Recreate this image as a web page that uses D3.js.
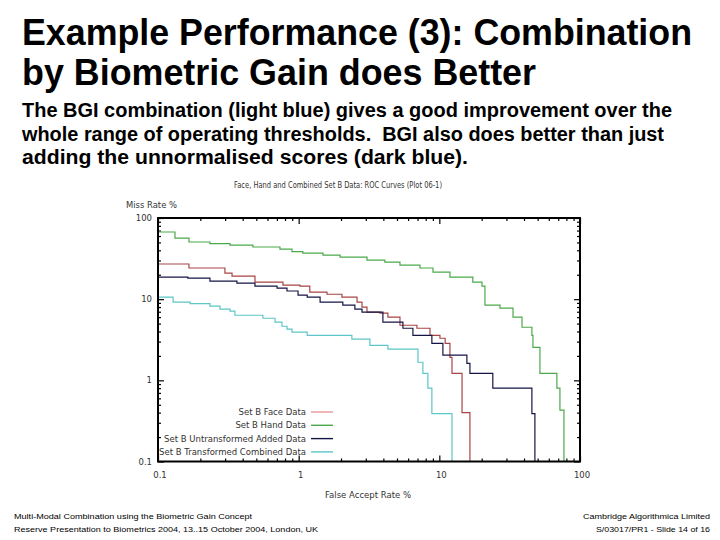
<!DOCTYPE html>
<html><head><meta charset="utf-8">
<script src="https://cdn.jsdelivr.net/npm/d3@7"></script>
<style>body{margin:0;background:#fff}svg{display:block}</style>
</head><body>
<script>
// ---- data (FAR %, Miss %) step corners ----
const faceData = [[0.1,37],[0.1,27.1],[0.166,24.2],[0.299,20.9],[0.336,19.2],[0.489,16.2],[0.773,14.9],[1.02,14.5],[1.20,12.2],[1.59,11.5],[2.03,10.6],[2.60,9.19],[2.82,7.96],[3.06,6.92],[3.78,6.72],[4.31,6.0],[5.25,4.77],[6.93,4.38],[8.58,3.59],[10.1,3.30],[11.0,2.86],[11.9,1.92],[12.3,1.22],[14.5,0.40],[16.5,0.1]];
const handData = [[0.1,67.2],[0.132,56.6],[0.166,50.6],[0.234,48.4],[0.325,46.4],[0.473,43.9],[0.736,41.4],[0.896,38.5],[1.07,37.0],[1.49,34.9],[1.97,33.0],[3.06,30.3],[4.10,28.6],[5.25,26.3],[7.28,24.2],[9.01,21.5],[11.9,18.7],[17.3,16.2],[20.1,14.5],[21.1,8.43],[27.0,7.74],[33.4,6.0],[38.7,4.51],[45.5,3.59],[46.3,2.55],[51.9,1.22],[68.5,0.80],[72.0,0.43],[76.9,0.1]];
const addedData = [[0.1,18.7],[0.163,18.2],[0.234,16.7],[0.364,15.8],[0.489,14.5],[0.702,13.7],[0.826,12.6],[0.99,11.2],[1.15,10.6],[1.42,9.19],[2.06,8.43],[2.51,7.53],[2.82,6.92],[3.97,5.20],[5.51,4.38],[6.49,3.59],[8.85,2.86],[10.6,2.04],[15.7,1.62],[16.5,1.22],[24.0,0.80],[45.5,0.39],[47.8,0.1]];
const combinedData = [[0.1,10.6],[0.128,9.19],[0.169,8.80],[0.234,8.20],[0.276,7.53],[0.325,7.11],[0.352,6.34],[0.557,5.82],[0.679,5.20],[0.761,4.64],[0.826,4.27],[0.896,3.92],[1.15,3.59],[2.39,3.21],[3.21,2.70],[4.31,2.42],[7.05,1.67],[7.64,1.22],[8.29,0.80],[8.85,0.39],[12.3,0.1]];
const seriesNames = ["Set B Face Data","Set B Hand Data","Set B Untransformed Added Data","Set B Transformed Combined Data"];
const seriesColors = ["#e89a9a","#4aa84a","#141446","#5cc6c8"];
const seriesStroke = ["#a84444","#4aa84a","#141446","#5cc6c8"];
const xTickLabels = ["0.1","1","10","100"];
const yTickLabels = ["0.1","1","10","100"];
const decades = [0.1,1,10,100];

const svg = d3.select("body").append("svg").attr("width",720).attr("height",540);
svg.append("rect").attr("width",720).attr("height",540).attr("fill","#fff");

// ---- slide text ----
const T = svg.append("g").attr("font-family","'Liberation Sans', Arial, sans-serif").attr("fill","#000");
T.append("text").attr("x",22).attr("y",45).attr("font-size",36).attr("font-weight","bold")
 .attr("textLength",670).attr("lengthAdjust","spacingAndGlyphs").text("Example Performance (3): Combination");
T.append("text").attr("x",22).attr("y",85).attr("font-size",36).attr("font-weight","bold")
 .attr("textLength",514).attr("lengthAdjust","spacingAndGlyphs").text("by Biometric Gain does Better");
const sub = [["The BGI combination (light blue) gives a good improvement over the",650],
             ["whole range of operating thresholds.  BGI also does better than just",642],
             ["adding the unnormalised scores (dark blue).",446]];
sub.forEach((s,i)=>T.append("text").attr("x",22).attr("y",117+i*23.5).attr("font-size",20).attr("font-weight","bold")
  .attr("textLength",s[1]).attr("lengthAdjust","spacingAndGlyphs").style("white-space","pre").text(s[0]));
const foot = svg.append("g").attr("font-family","'Liberation Sans', Arial, sans-serif").attr("font-size",8).attr("fill","#000");
foot.append("text").attr("x",14).attr("y",519).attr("textLength",238).attr("lengthAdjust","spacingAndGlyphs").text("Multi-Modal Combination using the Biometric Gain Concept");
foot.append("text").attr("x",14).attr("y",532).attr("textLength",304).attr("lengthAdjust","spacingAndGlyphs").text("Reserve Presentation to Biometrics 2004, 13..15 October 2004, London, UK");
foot.append("text").attr("x",583).attr("y",519).attr("textLength",127).attr("lengthAdjust","spacingAndGlyphs").text("Cambridge Algorithmica Limited");
foot.append("text").attr("x",596).attr("y",532).attr("textLength",114).attr("lengthAdjust","spacingAndGlyphs").text("S/03017/PR1 - Slide 14 of 16");

// ---- chart ----
const x = d3.scaleLog().domain([0.1,100]).range([158,580]);
const y = d3.scaleLog().domain([0.1,100]).range([461.5,218]);
const C = svg.append("g").attr("font-family","'DejaVu Sans', sans-serif").attr("font-size",8.5).attr("fill","#333");

C.append("text").attr("x",338).attr("y",188).attr("text-anchor","middle").attr("textLength",208).attr("lengthAdjust","spacingAndGlyphs")
 .text("Face, Hand and Combined Set B Data: ROC Curves (Plot 06-1)");
C.append("text").attr("x",126).attr("y",208).attr("textLength",51).attr("lengthAdjust","spacingAndGlyphs").text("Miss Rate %");
C.append("text").attr("x",368).attr("y",498).attr("text-anchor","middle").attr("textLength",86).attr("lengthAdjust","spacingAndGlyphs").text("False Accept Rate %");

const minor = x.ticks();
function addAxis(gen, tr){
  const g = svg.append("g").attr("transform",tr).call(gen);
  g.select(".domain").remove();
  g.selectAll("text").remove();
  g.selectAll("line").attr("stroke","#000").attr("stroke-width",1.2);
  return g;
}
const isMajor = v => decades.some(d=>Math.abs(v-d)<1e-9);
addAxis(d3.axisBottom(x).tickValues(minor).tickSize(0).tickSizeInner(-3), "translate(0,461.5)")
  .selectAll(".tick line").attr("y2",d=>isMajor(d)?-6:-3);
addAxis(d3.axisTop(x).tickValues(minor).tickSizeInner(-3), "translate(0,218)")
  .selectAll(".tick line").attr("y2",d=>isMajor(d)?6:3);
addAxis(d3.axisLeft(y).tickValues(y.ticks()).tickSizeInner(-3), "translate(158,0)")
  .selectAll(".tick line").attr("x2",d=>isMajor(d)?6:3);
addAxis(d3.axisRight(y).tickValues(y.ticks()).tickSizeInner(-3), "translate(580,0)")
  .selectAll(".tick line").attr("x2",d=>isMajor(d)?-6:-3);

// tick labels
C.selectAll(".xl").data(decades).join("text").attr("class","xl")
 .attr("x",d=>x(d)+2).attr("y",478).attr("text-anchor","middle").text((d,i)=>xTickLabels[i]);
C.selectAll(".yl").data(decades).join("text").attr("class","yl")
 .attr("x",152).attr("y",d=>y(d)+3).attr("text-anchor","end").text((d,i)=>yTickLabels[i]);

// curves
const line = d3.line().x(d=>x(d[0])).y(d=>y(d[1])).curve(d3.curveStepAfter);
const all = [faceData, handData, addedData, combinedData];
const clip = svg.append("clipPath").attr("id","pc").append("rect").attr("x",158).attr("y",218).attr("width",422).attr("height",243.5);
svg.append("g").attr("clip-path","url(#pc)").selectAll("path").data(all).join("path")
  .attr("d",line).attr("fill","none").attr("stroke",(d,i)=>seriesStroke[i]).attr("stroke-width",1.2);

// frame
svg.append("rect").attr("x",158).attr("y",218).attr("width",422).attr("height",243.5)
  .attr("fill","none").attr("stroke","#000").attr("stroke-width",2);

// legend
const lg = svg.append("g");
seriesNames.forEach((n,i)=>{
  const yy = 412 + i*13.3;
  lg.append("text").attr("x",306).attr("y",yy+3).attr("text-anchor","end")
    .attr("font-family","'DejaVu Sans', sans-serif").attr("font-size",8.5).attr("fill","#333").text(n);
  lg.append("line").attr("x1",311).attr("x2",333).attr("y1",yy).attr("y2",yy)
    .attr("stroke",seriesColors[i]).attr("stroke-width",1.4);
});
</script>
</body></html>
